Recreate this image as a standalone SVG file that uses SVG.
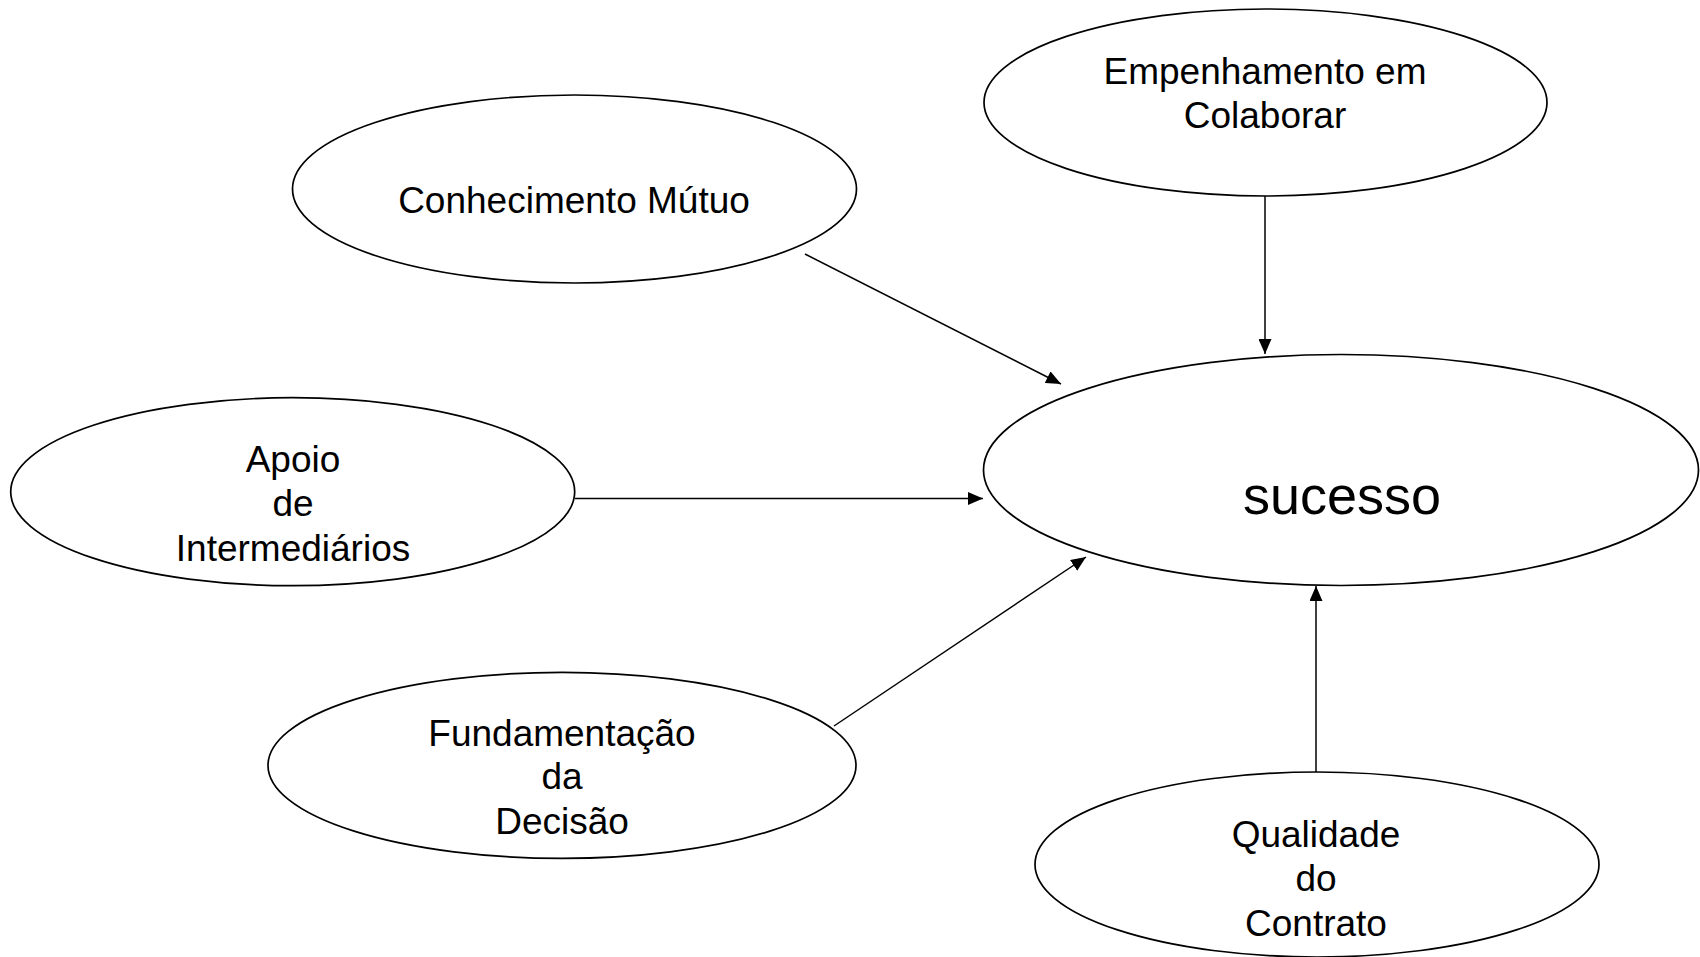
<svg xmlns="http://www.w3.org/2000/svg" width="1700" height="957" viewBox="0 0 1700 957">
<style>
.node ellipse{fill:#fff;stroke:#000;stroke-width:1.7}
.node text{font-family:"Liberation Sans",Arial,sans-serif;font-size:37px;fill:#000;text-anchor:middle}
.big{font-size:54px !important}
.conn line{stroke:#000;stroke-width:1.5;marker-end:url(#arr)}
</style>
<defs>
<marker id="arr" markerUnits="userSpaceOnUse" markerWidth="15" markerHeight="13" refX="15" refY="6.5" orient="auto">
<path d="M0,0 L15,6.5 L0,13 z" fill="#000"/>
</marker>
</defs>
<rect width="1700" height="957" fill="#fff"/>
<g id="connectors" class="conn">
<line x1="1265" y1="196" x2="1265" y2="354"/>
<line x1="805" y1="254" x2="1061" y2="384"/>
<line x1="575" y1="498.5" x2="983" y2="498.5"/>
<line x1="834" y1="726" x2="1086" y2="557"/>
<line x1="1316" y1="772" x2="1316" y2="586"/>
</g>
<g id="node-empenhamento" class="node">
<ellipse cx="1265.5" cy="102.5" rx="281.5" ry="93.5"/>
<text x="1265" y="83.5">Empenhamento em</text>
<text x="1265" y="128">Colaborar</text>
</g>
<g id="node-conhecimento" class="node">
<ellipse cx="574.5" cy="189" rx="282" ry="94"/>
<text x="574" y="213">Conhecimento Mútuo</text>
</g>
<g id="node-apoio" class="node">
<ellipse cx="292.7" cy="491.7" rx="282" ry="94"/>
<text x="293" y="472">Apoio</text>
<text x="293" y="516">de</text>
<text x="293" y="561">Intermediários</text>
</g>
<g id="node-sucesso" class="node">
<ellipse cx="1341" cy="470" rx="357.5" ry="115.5"/>
<text class="big" x="1342" y="514">sucesso</text>
</g>
<g id="node-fundamentacao" class="node">
<ellipse cx="562" cy="765.4" rx="294" ry="93"/>
<text x="562" y="746">Fundamentação</text>
<text x="562" y="789">da</text>
<text x="562" y="834">Decisão</text>
</g>
<g id="node-qualidade" class="node">
<ellipse cx="1317" cy="864.5" rx="282" ry="92.5"/>
<text x="1316" y="847">Qualidade</text>
<text x="1316" y="891">do</text>
<text x="1316" y="936">Contrato</text>
</g>
</svg>
